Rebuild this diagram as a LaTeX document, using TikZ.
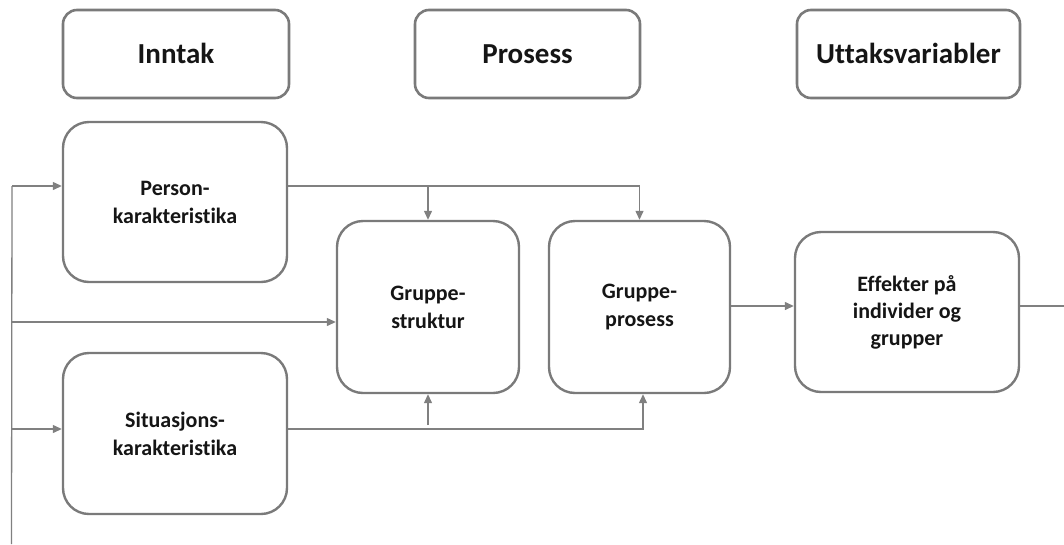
\documentclass[tikz,border=0pt]{standalone}
\usepackage{fontspec}
\setmainfont[Ligatures={NoCommon}]{Carlito}
\usetikzlibrary{arrows.meta}
\definecolor{boxgray}{HTML}{7A7A7A}
\definecolor{linegray}{HTML}{808080}
\definecolor{txt}{HTML}{151515}
\tikzset{
  hdr/.style={draw=boxgray, line width=2.6pt, rounded corners=14pt, fill=white,
    minimum width=#1, minimum height=88pt, inner sep=0pt, align=center,
    text height=24pt, text depth=6pt,
    font=\fontsize{29}{33}\selectfont\bfseries, text=txt},
  blk/.style={draw=boxgray, line width=2.4pt, rounded corners=26pt, fill=white,
    inner sep=0pt, align=center,
    font=\fontsize{22}{28}\selectfont\bfseries, text=txt},
  conn/.style={draw=linegray, line width=1.3pt},
  arr/.style={conn, -{Triangle[length=9pt,width=8pt]}},
}
\begin{document}
\begin{tikzpicture}[x=1pt,y=-1pt]
\useasboundingbox (0,0) rectangle (1064,544);
% headers
\node[hdr=226pt] (hIn) at (176,54) {Inntak};
\node[hdr=225pt] (hPr) at (527.5,54) {Prosess};
\node[hdr=223pt] (hUt) at (908.5,54) {Uttaksvariabler};
% blocks
\node[blk, minimum width=224pt, minimum height=160pt] (pers) at (175,202) {Person-\\karakteristika};
\node[blk, minimum width=224pt, minimum height=161pt] (sit) at (175,433.5) {Situasjons-\\karakteristika};
\node[blk, minimum width=182pt, minimum height=172pt] (gstr) at (428,307) {Gruppe-\\struktur};
\node[blk, minimum width=181pt, minimum height=172pt] (gpro) at (639.5,307) {Gruppe-\\prosess};
\node[blk, minimum width=224pt, minimum height=160pt, font=\fontsize{22}{27}\selectfont\bfseries] (eff) at (907,312) {Effekter på\\individer og\\grupper};
% coordinates
\coordinate (fbTop) at (12,186);
\coordinate (fbMid) at (12,322);
\coordinate (fbSit) at (12,429);
\coordinate (fbBot) at (11.5,544);
\coordinate (jP1) at (428,186);
\coordinate (jP2) at (639.5,186);
\coordinate (jS1b) at (428,425);
\coordinate (jS2) at (643,429);
\coordinate (outR) at (1064,306);
% feedback vertical
\draw[conn] (fbTop) -- (fbBot);
\draw[arr] (fbTop) -- (pers.west |- fbTop);
\draw[arr] (fbMid) -- (gstr.west |- fbMid);
\draw[arr] (fbSit) -- (sit.west |- fbSit);
% person to group boxes
\draw[conn] (pers.east |- jP1) -- (jP2);
\draw[arr] (jP1) -- (gstr.north);
\draw[arr] (jP2) -- (gpro.north);
% situation to group boxes
\draw[arr] (sit.east |- jS2) -- (jS2) -- (jS2 |- gpro.south);
\draw[arr] (jS1b) -- (gstr.south);
% process to effects
\draw[arr] (gpro.east |- outR) -- (eff.west |- outR);
\draw[conn] (eff.east |- outR) -- (outR);
\end{tikzpicture}
\end{document}
